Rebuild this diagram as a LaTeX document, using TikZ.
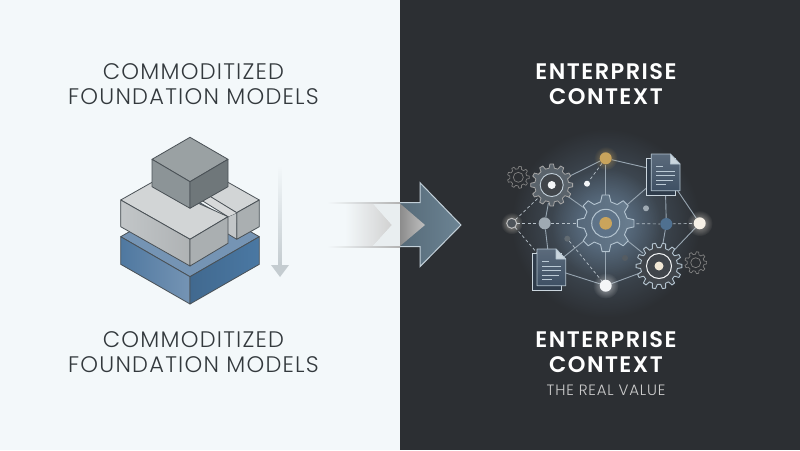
\documentclass[tikz,border=0pt]{standalone}
\usepackage{fontspec}
\setmainfont{Poppins}
\newfontfamily\headlight[LetterSpace=5.5]{Poppins Light}
\newfontfamily\headbold[LetterSpace=6.5]{Poppins SemiBold}
\usetikzlibrary{fadings,calc}
\tikzfading[name=glowfade, inner color=transparent!0, outer color=transparent!100]
\tikzfading[name=softglow, inner color=transparent!45, outer color=transparent!100]
\definecolor{lightbg}{HTML}{F3F8FA}
\definecolor{darkbg}{HTML}{2C2F33}
\definecolor{inkc}{HTML}{33393D}
\definecolor{edgeblk}{HTML}{4A5156}
\definecolor{linkc}{HTML}{98A6B2}
\definecolor{gold}{HTML}{C9A45C}
\definecolor{outl}{HTML}{B4C4D0}
\definecolor{blueA}{HTML}{7594B4}
\definecolor{blueB}{HTML}{4F78A0}
\definecolor{blueC}{HTML}{41698F}
\definecolor{blueD}{HTML}{4A78A3}
\definecolor{arrA}{HTML}{566A78}
\definecolor{arrB}{HTML}{6C8494}
\definecolor{docA}{HTML}{3E5064}
\definecolor{slabtop}{HTML}{D2D5D6}
\definecolor{slabfront}{HTML}{C2C6C8}
\definecolor{slabside}{HTML}{AAAFB1}
\definecolor{cubetop}{HTML}{9AA1A3}
\definecolor{cubefront}{HTML}{8C9497}
\definecolor{cubeside}{HTML}{6F777A}
\definecolor{downc}{HTML}{C4CCD0}
\definecolor{glowc}{HTML}{7390AC}
\definecolor{gearA}{HTML}{56687A}
\definecolor{gearB}{HTML}{6A7E90}
\definecolor{gearC}{HTML}{5A636B}
\definecolor{nodegray}{HTML}{9FAAB3}
\definecolor{nodeblue}{HTML}{4F7090}
\tikzset{
  x=1pt,y=-1pt,
  head/.style={font=\fontsize{22.5}{25}\selectfont\headlight,align=center,text=#1,inner sep=0pt},
  bhead/.style={font=\fontsize{22.5}{25}\selectfont\headbold,align=center,text=white,inner sep=0pt},
  blockedge/.style={draw=edgeblk,line width=0.8pt,line join=round},
  link/.style={draw=linkc,line width=0.9pt},
  dlink/.style={draw=linkc!70,line width=0.7pt,dash pattern=on 3pt off 2.5pt},
  anchorpt/.style={circle,inner sep=0pt,minimum size=#1},
  sglow/.style={fill=#1,path fading=softglow},
  gearst/.style={draw=outl,line width=0.9pt,line join=round},
  thin gear/.style={draw=#1,line width=0.7pt,line join=round},
  docback/.style={fill=#1,draw=outl!70,line width=0.7pt},
  docfront/.style={top color=#1!85!white,bottom color=#1,draw=outl,line width=0.8pt,line join=round},
  docline/.style={draw=outl!90,line width=0.8pt},
}
% gear outline: #1 style, #2 centre, #3 teeth, #4 outer radius, #5 root radius
\newcommand{\gearoutline}[5][]{%
  \begin{scope}[shift={(#2)}]
  \pgfmathsetmacro{\gs}{360/#3}
  \path[#1] (-0.30*\gs:#5)
    \foreach \gi in {1,...,#3}{
      -- ({(\gi-1)*\gs-0.16*\gs}:#4) -- ({(\gi-1)*\gs+0.16*\gs}:#4)
      -- ({(\gi-1)*\gs+0.30*\gs}:#5) -- ({\gi*\gs-0.30*\gs}:#5)
    } -- cycle;
  \end{scope}}
\newcommand{\docsheet}[2]{% #1 top-left of front, #2 fill
  \begin{scope}[shift={(#1)}]
  \path[docback=#2!75!black] (-4.7,4.3) rectangle (24,41);
  \path[docfront=#2] (0,0) -- (19,0) -- (28.7,10) -- (28.7,36.7) -- (0,36.7) -- cycle;
  \path[fill=outl!70,draw=outl,line width=0.6pt,line join=round] (19,0) -- (19,10) -- (28.7,10) -- cycle;
  \draw[docline] (5,12) -- (12,12) (5,17) -- (24,17) (5,21.5) -- (24,21.5) (5,26) -- (22,26) (5,30.5) -- (15,30.5);
  \end{scope}}
\begin{document}
\begin{tikzpicture}
\useasboundingbox (0,0) rectangle (800,450);
\fill[lightbg] (0,0) rectangle (400,450);
\fill[darkbg] (400,0) rectangle (800,450);

% headings
\node[head=inkc] (tl) at (193.5,84.5) {COMMODITIZED\\FOUNDATION MODELS};
\node[head=inkc] (bl) at (193.5,352.5) {COMMODITIZED\\FOUNDATION MODELS};
\node[bhead] (tr) at (606,84.5) {ENTERPRISE\\CONTEXT};
\node[bhead] (br) at (606,352.5) {ENTERPRISE\\CONTEXT};
\node[font=\fontsize{15}{17}\selectfont\headlight,text=white!80!black,inner sep=0pt] (val) at (606,390) {THE REAL VALUE};

% blue base block
\path[blockedge,fill=blueA] (120.7,236.7) -- (190,197) -- (259.3,236.7) -- (190,276.7) -- cycle;
\path[blockedge,left color=blueB,right color=blueA] (120.7,236.7) -- (190,276.7) -- (190,304) -- (120.7,264.3) -- cycle;
\path[blockedge,left color=blueC,right color=blueD] (190,276.7) -- (259.3,236.7) -- (259.3,264.3) -- (190,304) -- cycle;

% right gray piece
\path[blockedge,fill=slabtop] (228,182.3) -- (259.3,200) -- (236.7,212.7) -- (202.7,193) -- cycle;
\path[blockedge,fill=slabside] (236.7,212.7) -- (259.3,200) -- (259.3,226.7) -- (236.7,239.3) -- cycle;
\path[fill=slabfront] (228,216.7) -- (236.7,212.7) -- (236.7,239.3) -- (228,234) -- cycle;
\draw[blockedge] (228,216.7) -- (236.7,212.7) (236.7,212.7) -- (236.7,239.3) -- (228,234);
\path[fill=slabtop!90!white] (202.7,201) -- (210.7,196.7) -- (236.7,212.7) -- (228,216.7) -- cycle;
\draw[blockedge] (202.7,201) -- (228,216.7) (210.7,196.7) -- (236.7,212.7);

% left gray slab
\path[blockedge,fill=slabtop] (120.7,200) -- (152,182.3) -- (228,216.7) -- (190,239.3) -- cycle;
\path[blockedge,left color=slabfront,right color=slabfront!90!black] (120.7,200) -- (190,239.3) -- (190,266) -- (120.7,226.7) -- cycle;
\path[blockedge,fill=slabside] (190,239.3) -- (228,216.7) -- (228,243.3) -- (190,266) -- cycle;

% top cube
\path[blockedge,fill=cubetop] (190,137.3) -- (228,159.3) -- (190,181.7) -- (152,159.3) -- cycle;
\path[blockedge,fill=cubefront] (152,159.3) -- (190,181.7) -- (190,208.3) -- (152,186.7) -- cycle;
\path[blockedge,fill=cubeside] (190,181.7) -- (228,159.3) -- (228,186.7) -- (190,208.3) -- cycle;

% down arrow
\shade[top color=lightbg,bottom color=downc] (278.5,165) rectangle (281.5,265);
\fill[downc] (271,265) -- (289,265) -- (280,277) -- cycle;

% big transition arrow
\shade[left color=lightbg,right color=black!18] (345,203.5) -- (373,203.5) -- (392,225) -- (373,246) -- (345,246) -- cycle;
\fill[black!4!lightbg] (373,203.5) -- (400,203.5) -- (400,246) -- (373,246) -- (392,225) -- cycle;
\path[left color=arrA,right color=arrB,draw=outl!80,line width=1pt,line join=miter] (400,202.7) -- (420,202.7) -- (420,182.7) -- (461,225) -- (420,266.7) -- (420,246.7) -- (400,246.7);
\path[left color=black!45,right color=black!25] (400,203.5) -- (425,225) -- (400,246) -- cycle;
\shade[left color=lightbg,right color=black!30] (327,202) rectangle (400,203.5);
\shade[left color=lightbg,right color=black!30] (327,246) rectangle (400,247.5);

% network glow
\fill[sglow=glowc] (605.7,223.3) circle (95);
\fill[sglow=glowc] (605.7,223.3) circle (55);

% named hubs
\node[anchorpt=12pt] (top) at (605.7,158.3) {};
\node[anchorpt=12pt] (bot) at (605.7,285.7) {};
\node[anchorpt=10pt] (lft) at (511.7,223.3) {};
\node[anchorpt=12pt] (gry) at (544.7,223.3) {};
\node[anchorpt=12pt] (blu) at (666.3,224) {};
\node[anchorpt=12pt] (rgt) at (699.7,223.3) {};
\node[anchorpt=50pt] (cg) at (605.7,223.3) {};
\node[anchorpt=36pt] (tlg) at (551.7,185) {};
\node[anchorpt=40pt] (brg) at (659,266) {};
\node[anchorpt=6pt] (d1) at (587,183.7) {};
\node[anchorpt=6pt] (d2) at (646,208.3) {};
\node[anchorpt=6pt] (d3) at (567.3,238.7) {};
\node[anchorpt=6pt] (d4) at (625,258) {};
\node[anchorpt=4pt] (dt) at (665,172) {};
\node[anchorpt=4pt] (db) at (550,268) {};

% links
\draw[link] (top) -- (tlg);
\draw[link] (top) -- (dt);
\draw[link] (top) -- (cg);
\draw[link] (cg) -- (tlg);
\draw[link] (cg) -- (dt);
\draw[link] (cg) -- (db);
\draw[link] (cg) -- (brg);
\draw[link] (cg) -- (bot);
\draw[link] (bot) -- (db);
\draw[link] (bot) -- (brg);
\draw[link] (tlg) -- (gry);
\draw[link] (gry) -- (db);
\draw[link] (dt) -- (blu);
\draw[link] (blu) -- (brg);
\draw[link] (dt) -- (rgt);
\draw[link] (rgt) -- (brg);
\draw[dlink] (lft) -- (gry);
\draw[dlink] (gry) -- (cg);
\draw[dlink] (cg) -- (blu);
\draw[dlink] (blu) -- (rgt);
\draw[dlink] (lft) -- (tlg);
\draw[dlink] (lft) -- (db);
\draw[dlink] (top) -- (d1);
\draw[dlink] (d3) -- (bot);

% outline gears
\gearoutline[thin gear=black!50]{518.3,177.3}{9}{11}{8.5}
\draw[black!50,line width=0.7pt] (518.3,177.3) circle (5);
\gearoutline[thin gear=black!50]{695.7,262.7}{9}{11}{8.5}
\draw[black!50,line width=0.7pt] (695.7,262.7) circle (5);

% top-left gear
\gearoutline[fill=gearC,draw=black!35,line width=0.8pt,line join=round]{551.7,185}{12}{21}{17}
\fill[darkbg!85!outl] (551.7,185) circle (11.5);
\draw[outl!80,line width=0.9pt] (551.7,185) circle (11.5);
\fill[white!85!outl] (551.7,185) circle (4);

% centre gear
\gearoutline[gearst,left color=gearA,right color=gearB]{605.7,223.3}{8}{28.5}{22}
\fill[glowc!70!darkbg] (605.7,223.3) circle (14);
\draw[outl,line width=1pt] (605.7,223.3) circle (14);
\fill[gold] (605.7,223.3) circle (6.3);

% bottom-right gear
\gearoutline[gearst,fill=darkbg!85!outl]{659,266}{14}{23}{18.5}
\draw[white!85!outl,line width=1pt] (659,266) circle (12.5);
\fill[white!75!gold] (659,266) circle (4.5);

% documents
\docsheet{651.3,154}{docA}
\docsheet{537,249}{docA}

% hub dots with halos
\fill[sglow=gold] (top) circle (12);
\fill[gold] (top) circle (6);
\fill[sglow=white] (bot) circle (13);
\fill[white!85!outl] (bot) circle (6);
\fill[sglow=white!80!gold] (lft) circle (11);
\fill[darkbg!75!outl] (lft) circle (5);
\draw[black!25,line width=1pt] (lft) circle (5);
\fill[nodegray] (gry) circle (6);
\fill[nodeblue] (blu) circle (6);
\fill[sglow=white!85!gold] (rgt) circle (13);
\fill[white!85!gold] (rgt) circle (6);
\fill[white!85!outl] (d1) circle (3);
\fill[nodegray] (d2) circle (3);
\fill[outl!40!darkbg] (d3) circle (3);
\fill[outl!30!darkbg] (d4) circle (3);
\end{tikzpicture}
\end{document}
